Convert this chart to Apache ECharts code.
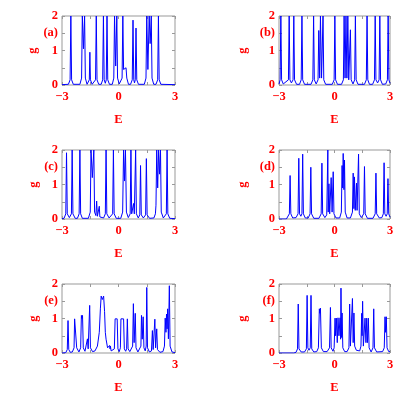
<!DOCTYPE html>
<html>
<head>
    <meta charset="utf-8">
    <title>g(E)</title>
    <script src="https://cdn.jsdelivr.net/npm/echarts@6/dist/echarts.min.js"></script>
    <style>
        html, body { margin: 0; padding: 0; background: #fff; }
        #chart { width: 417px; height: 393px; }
    </style>
</head>
<body>
<div id="chart"></div>
<script>
    // [E, g] points
    var panelA = [[-3,0.01],[-2.66,0.02],[-2.57,0.15],[-2.53,2],[-2.49,0.15],[-2.40,0.02],
        [-2.05,0.02],[-1.96,0.2],[-1.92,2],[-1.86,1.05],[-1.80,2],[-1.76,0.2],[-1.67,0.02],
        [-1.62,0.03],[-1.55,0.15],[-1.52,0.95],[-1.49,0.15],[-1.40,0.02],
        [-1.30,0.02],[-1.22,0.15],[-1.18,2],[-1.14,0.15],[-1.05,0.02],
        [-0.92,0.02],[-0.84,0.15],[-0.80,2],[-0.76,0.15],[-0.70,0.05],[-0.65,0.15],[-0.61,2],[-0.57,0.15],[-0.48,0.02],
        [-0.33,0.02],[-0.25,0.2],[-0.21,2],[-0.15,0.55],[-0.09,2],[-0.05,0.2],[0.04,0.03],
        [0.10,0.03],[0.19,0.2],[0.23,2],[0.27,0.45],[0.34,0.5],[0.40,0.5],[0.44,0.2],[0.53,0.02],
        [0.64,0.02],[0.73,0.15],[0.77,1.88],[0.81,0.15],[0.85,0.06],[0.89,0.15],[0.93,1.65],[0.97,0.15],[1.06,0.02],
        [1.37,0.02],[1.46,0.2],[1.50,2],[1.56,0.45],[1.63,2],[1.68,1.2],[1.74,2],[1.78,0.2],[1.87,0.02],
        [1.99,0.02],[2.08,0.15],[2.12,2],[2.16,0.15],[2.25,0.02],[3,0.01]];

    var panelB = [[-3,0.03],[-2.94,0.15],[-2.90,2],[-2.86,0.15],[-2.77,0.03],[-2.68,0.02],
        [-2.49,0.15],[-2.45,2],[-2.41,0.15],[-2.33,0.06],[-2.24,0.15],[-2.20,2],[-2.16,0.15],[-2.05,0.02],
        [-1.89,0.02],[-1.80,0.15],[-1.76,2],[-1.72,0.15],[-1.62,0.02],
        [-1.27,0.02],[-1.17,0.15],[-1.13,2],[-1.09,0.15],[-0.99,0.03],[-0.89,0.15],[-0.85,1.58],[-0.80,0.2],
        [-0.76,2],[-0.70,0.2],[-0.66,0.2],[-0.62,2],[-0.58,0.15],[-0.48,0.02],
        [-0.12,0.02],[-0.02,0.15],[0.02,2],[0.06,0.15],[0.16,0.02],
        [0.38,0.02],[0.48,0.15],[0.52,2],[0.57,0.2],[0.62,2],[0.67,0.2],[0.72,2],[0.77,0.15],[0.82,0.15],[0.86,1.6],
        [0.90,0.15],[1.00,0.03],[1.09,0.15],[1.13,2],[1.17,0.15],[1.27,0.02],
        [1.62,0.02],[1.72,0.15],[1.76,2],[1.80,0.15],[1.89,0.02],
        [2.06,0.02],[2.16,0.15],[2.20,2],[2.24,0.15],[2.33,0.06],[2.41,0.15],[2.45,2],[2.49,0.15],[2.59,0.02],
        [2.77,0.03],[2.86,0.15],[2.90,2],[2.94,0.15],[3,0.05]];

    var panelC = [[-3,0.01],[-2.89,0.02],[-2.80,0.15],[-2.76,1.92],[-2.72,0.15],[-2.61,0.04],[-2.50,0.15],[-2.46,2],[-2.42,0.15],[-2.30,0.02],
        [-2.18,0.02],[-2.09,0.15],[-2.05,2],[-2.01,0.15],[-1.92,0.02],
        [-1.60,0.02],[-1.50,0.2],[-1.46,2],[-1.39,1.2],[-1.31,2],[-1.27,0.2],[-1.20,0.1],[-1.16,0.52],[-1.12,0.08],
        [-1.05,0.06],[-1.02,0.37],[-0.99,0.06],[-0.90,0.02],[-0.79,0.03],[-0.70,0.15],[-0.66,2],[-0.62,0.15],[-0.50,0.03],
        [-0.40,0.03],[-0.31,0.15],[-0.27,2],[-0.23,0.15],[-0.12,0.02],
        [0.12,0.02],[0.22,0.2],[0.27,2],[0.32,1.1],[0.37,2],[0.42,0.2],[0.52,0.04],[0.62,0.15],[0.66,2],[0.70,0.15],
        [0.76,0.12],[0.80,0.45],[0.84,0.15],[0.87,0.15],[0.91,2],[0.95,0.15],[1.05,0.03],[1.13,0.12],[1.17,1.55],[1.21,0.12],
        [1.32,0.03],[1.44,0.12],[1.48,1.75],[1.52,0.12],[1.65,0.02],
        [1.88,0.03],[1.96,0.15],[1.99,0.4],[2.03,2],[2.08,0.9],[2.13,2],[2.18,1.3],[2.23,2],[2.27,0.2],[2.38,0.03],
        [2.46,0.03],[2.54,0.15],[2.58,2],[2.62,0.15],[2.72,0.02],[3,0.01]];

    var panelD = [[-3,0],[-2.6,0],[-2.52,0.02],[-2.44,0.15],[-2.40,1.26],[-2.36,0.15],[-2.26,0.03],
        [-2.08,0.04],[-1.97,0.15],[-1.93,1.76],[-1.89,0.15],[-1.82,0.08],[-1.76,0.15],[-1.72,1.88],[-1.68,0.15],[-1.58,0.03],
        [-1.42,0.03],[-1.32,0.15],[-1.28,1.5],[-1.24,0.15],[-1.12,0.02],[-0.84,0.02],[-0.72,0.15],[-0.68,1.62],[-0.64,0.15],
        [-0.52,0.04],[-0.42,0.12],[-0.36,2],[-0.34,0.2],[-0.30,1.02],[-0.26,0.15],[-0.22,0.15],[-0.18,1.2],[-0.13,0.2],
        [-0.07,1.37],[-0.03,0.15],[0.08,0.03],
        [0.28,0.03],[0.37,0.2],[0.41,1.55],[0.44,0.9],[0.47,1.9],[0.51,0.85],[0.54,1.71],[0.58,0.2],[0.68,0.03],
        [0.86,0.03],[0.97,0.2],[1.01,1.33],[1.05,0.3],[1.08,1.22],[1.12,0.25],[1.16,0.2],[1.19,1.04],[1.22,0.25],
        [1.26,0.2],[1.30,1.88],[1.34,0.15],[1.45,0.04],[1.58,0.15],[1.62,1.52],[1.66,0.15],[1.78,0.02],
        [2.08,0.02],[2.20,0.15],[2.24,1.33],[2.28,0.15],[2.42,0.03],[2.56,0.04],[2.64,0.15],[2.68,1.63],[2.72,0.15],
        [2.79,0.08],[2.85,0.15],[2.89,1.17],[2.93,0.15],[3,0.05]];

    var panelE = [[-3,0],[-2.8,0.01],[-2.72,0.1],[-2.68,0.94],[-2.64,0.1],[-2.56,0.02],
        [-2.45,0.03],[-2.36,0.15],[-2.33,0.99],[-2.29,0.95],[-2.25,0.99],[-2.22,0.15],[-2.10,0.03],
        [-2.01,0.15],[-1.97,1.09],[-1.94,1.0],[-1.91,1.09],[-1.87,0.15],[-1.78,0.05],[-1.69,0.1],[-1.65,0.41],[-1.61,0.12],
        [-1.57,0.15],[-1.53,1.38],[-1.49,0.15],[-1.38,0.04],
        [-1.25,0.06],[-1.12,0.2],[-1.02,0.6],[-0.96,1.3],[-0.92,1.65],[-0.86,1.55],[-0.79,1.65],[-0.74,1.2],[-0.70,0.6],
        [-0.66,0.4],[-0.63,0.43],[-0.58,0.15],[-0.51,0.1],[-0.47,0.22],[-0.45,0.12],[-0.43,0.2],[-0.39,0.06],[-0.30,0.03],
        [-0.22,0.12],[-0.18,0.99],[-0.13,0.95],[-0.07,0.99],[-0.03,0.12],[0.04,0.04],[0.10,0.15],[0.13,0.99],[0.20,0.95],
        [0.27,0.99],[0.31,0.12],[0.38,0.05],[0.43,0.12],[0.47,0.99],[0.51,0.12],[0.60,0.04],
        [0.70,0.06],[0.75,0.2],[0.79,1.43],[0.83,0.3],[0.86,0.3],[0.89,1.15],[0.93,0.15],[1.03,0.03],
        [1.13,0.05],[1.19,0.2],[1.22,1.09],[1.26,0.4],[1.31,1.05],[1.35,0.15],[1.42,0.06],[1.47,0.2],[1.50,1.9],[1.54,0.15],
        [1.64,0.03],[1.75,0.06],[1.80,0.65],[1.84,0.1],[1.89,0.12],[1.93,0.98],[1.97,0.15],[2.00,0.12],[2.03,0.7],[2.07,0.1],
        [2.20,0.02],[2.36,0.04],[2.44,0.2],[2.48,1.01],[2.52,0.6],[2.55,1.13],[2.58,0.7],[2.61,1.28],[2.65,0.41],[2.70,1.95],
        [2.74,0.2],[2.84,0.03],[3,0.01]];

    var panelF = [[-3,0],[-2.2,0],[-2.08,0.02],[-2.00,0.12],[-1.96,1.42],[-1.92,0.12],[-1.80,0.03],
        [-1.62,0.03],[-1.52,0.12],[-1.48,1.67],[-1.44,0.15],[-1.38,0.08],[-1.31,0.15],[-1.27,1.67],[-1.23,0.12],[-1.12,0.03],
        [-0.96,0.04],[-0.87,0.15],[-0.82,1.28],[-0.79,1.15],[-0.76,1.3],[-0.71,0.15],[-0.60,0.04],
        [-0.40,0.04],[-0.27,0.15],[-0.22,1.32],[-0.18,0.15],[-0.08,0.05],
        [-0.02,0.15],[0.03,1.01],[0.06,0.5],[0.10,1.01],[0.15,0.3],[0.19,1.02],[0.24,0.5],[0.30,1.02],[0.33,0.4],
        [0.35,1.88],[0.38,0.45],[0.41,1.16],[0.45,0.15],[0.55,0.04],
        [0.68,0.04],[0.78,0.15],[0.82,1.42],[0.86,0.2],[0.93,0.2],[0.97,1.58],[1.01,0.3],[1.05,1.16],[1.09,0.2],
        [1.18,0.08],[1.36,0.06],[1.43,0.2],[1.47,1.15],[1.49,0.5],[1.52,1.5],[1.56,0.2],[1.61,0.2],[1.65,1.01],
        [1.70,0.3],[1.74,1.01],[1.78,0.3],[1.83,1.01],[1.87,0.15],[1.98,0.03],
        [2.04,0.04],[2.08,0.15],[2.12,1.28],[2.16,0.15],[2.28,0.03],[2.60,0.04],[2.69,0.15],[2.73,1.05],[2.76,0.6],
        [2.80,1.05],[2.84,0.15],[2.93,0.04],[3,0.04]];

    var panels = [panelA, panelB, panelC, panelD, panelE, panelF];
    var panelLabels = ['(a)', '(b)', '(c)', '(d)', '(e)', '(f)'];
    var xTickLabels = [-3, 0, 3];
    var yTickLabels = [0, 1, 2];

    var colLeft = [62, 279], colWidth = [113, 111], colNameGap = [22, 30];
    var rowTop = [16, 150, 284], plotHeight = 69;

    var font = {
        color: '#ff0000',
        fontFamily: 'Liberation Serif',
        fontWeight: 'bold',
        fontSize: 12.5
    };
    var tick = {inside: true, length: 3, lineStyle: {color: '#999'}};
    var noLine = {show: false, onZero: false};

    var grids = [], xAxes = [], yAxes = [], series = [];
    panels.forEach(function (data, i) {
        var col = i % 2, row = Math.floor(i / 2);
        grids.push({
            left: colLeft[col], top: rowTop[row], width: colWidth[col], height: plotHeight,
            show: true, borderColor: '#999', borderWidth: 1,
            outerBoundsMode: 'none', containLabel: false
        });
        // bottom axis with labels, top axis with ticks only
        xAxes.push({
            gridIndex: i, type: 'value', min: -3, max: 3, interval: 1.5, position: 'bottom',
            name: 'E', nameLocation: 'middle', nameGap: 28, nameTextStyle: font,
            axisLine: noLine, axisTick: tick, splitLine: {show: false},
            axisLabel: Object.assign({}, font, {
                margin: 5,
                formatter: function (v) {
                    return xTickLabels.indexOf(v) >= 0 ? String(v).replace('-', '\u2212') : '';
                }
            })
        });
        xAxes.push({
            gridIndex: i, type: 'value', min: -3, max: 3, interval: 1.5, position: 'top',
            axisLine: noLine, axisTick: tick, axisLabel: {show: false}, splitLine: {show: false}
        });
        yAxes.push({
            gridIndex: i, type: 'value', min: 0, max: 2, interval: 0.5, position: 'left',
            name: 'g', nameLocation: 'middle', nameRotate: 90, nameGap: colNameGap[col], nameTextStyle: font,
            axisLine: noLine, axisTick: tick, splitLine: {show: false},
            axisLabel: Object.assign({}, font, {
                margin: 4,
                formatter: function (v) {
                    if (yTickLabels.indexOf(v) >= 0) return String(v);
                    return v === 1.5 ? panelLabels[i] : '';
                }
            })
        });
        yAxes.push({
            gridIndex: i, type: 'value', min: 0, max: 2, interval: 0.5, position: 'right',
            axisLine: noLine, axisTick: tick, axisLabel: {show: false}, splitLine: {show: false}
        });
        series.push({
            type: 'line', xAxisIndex: 2 * i, yAxisIndex: 2 * i, data: data,
            showSymbol: false, symbol: 'none',
            lineStyle: {color: '#0000ff', width: 1}
        });
    });

    var myChart = echarts.init(document.getElementById('chart'));
    myChart.setOption({
        animation: false,
        backgroundColor: '#fff',
        grid: grids,
        xAxis: xAxes,
        yAxis: yAxes,
        series: series
    });
</script>
</body>
</html>
